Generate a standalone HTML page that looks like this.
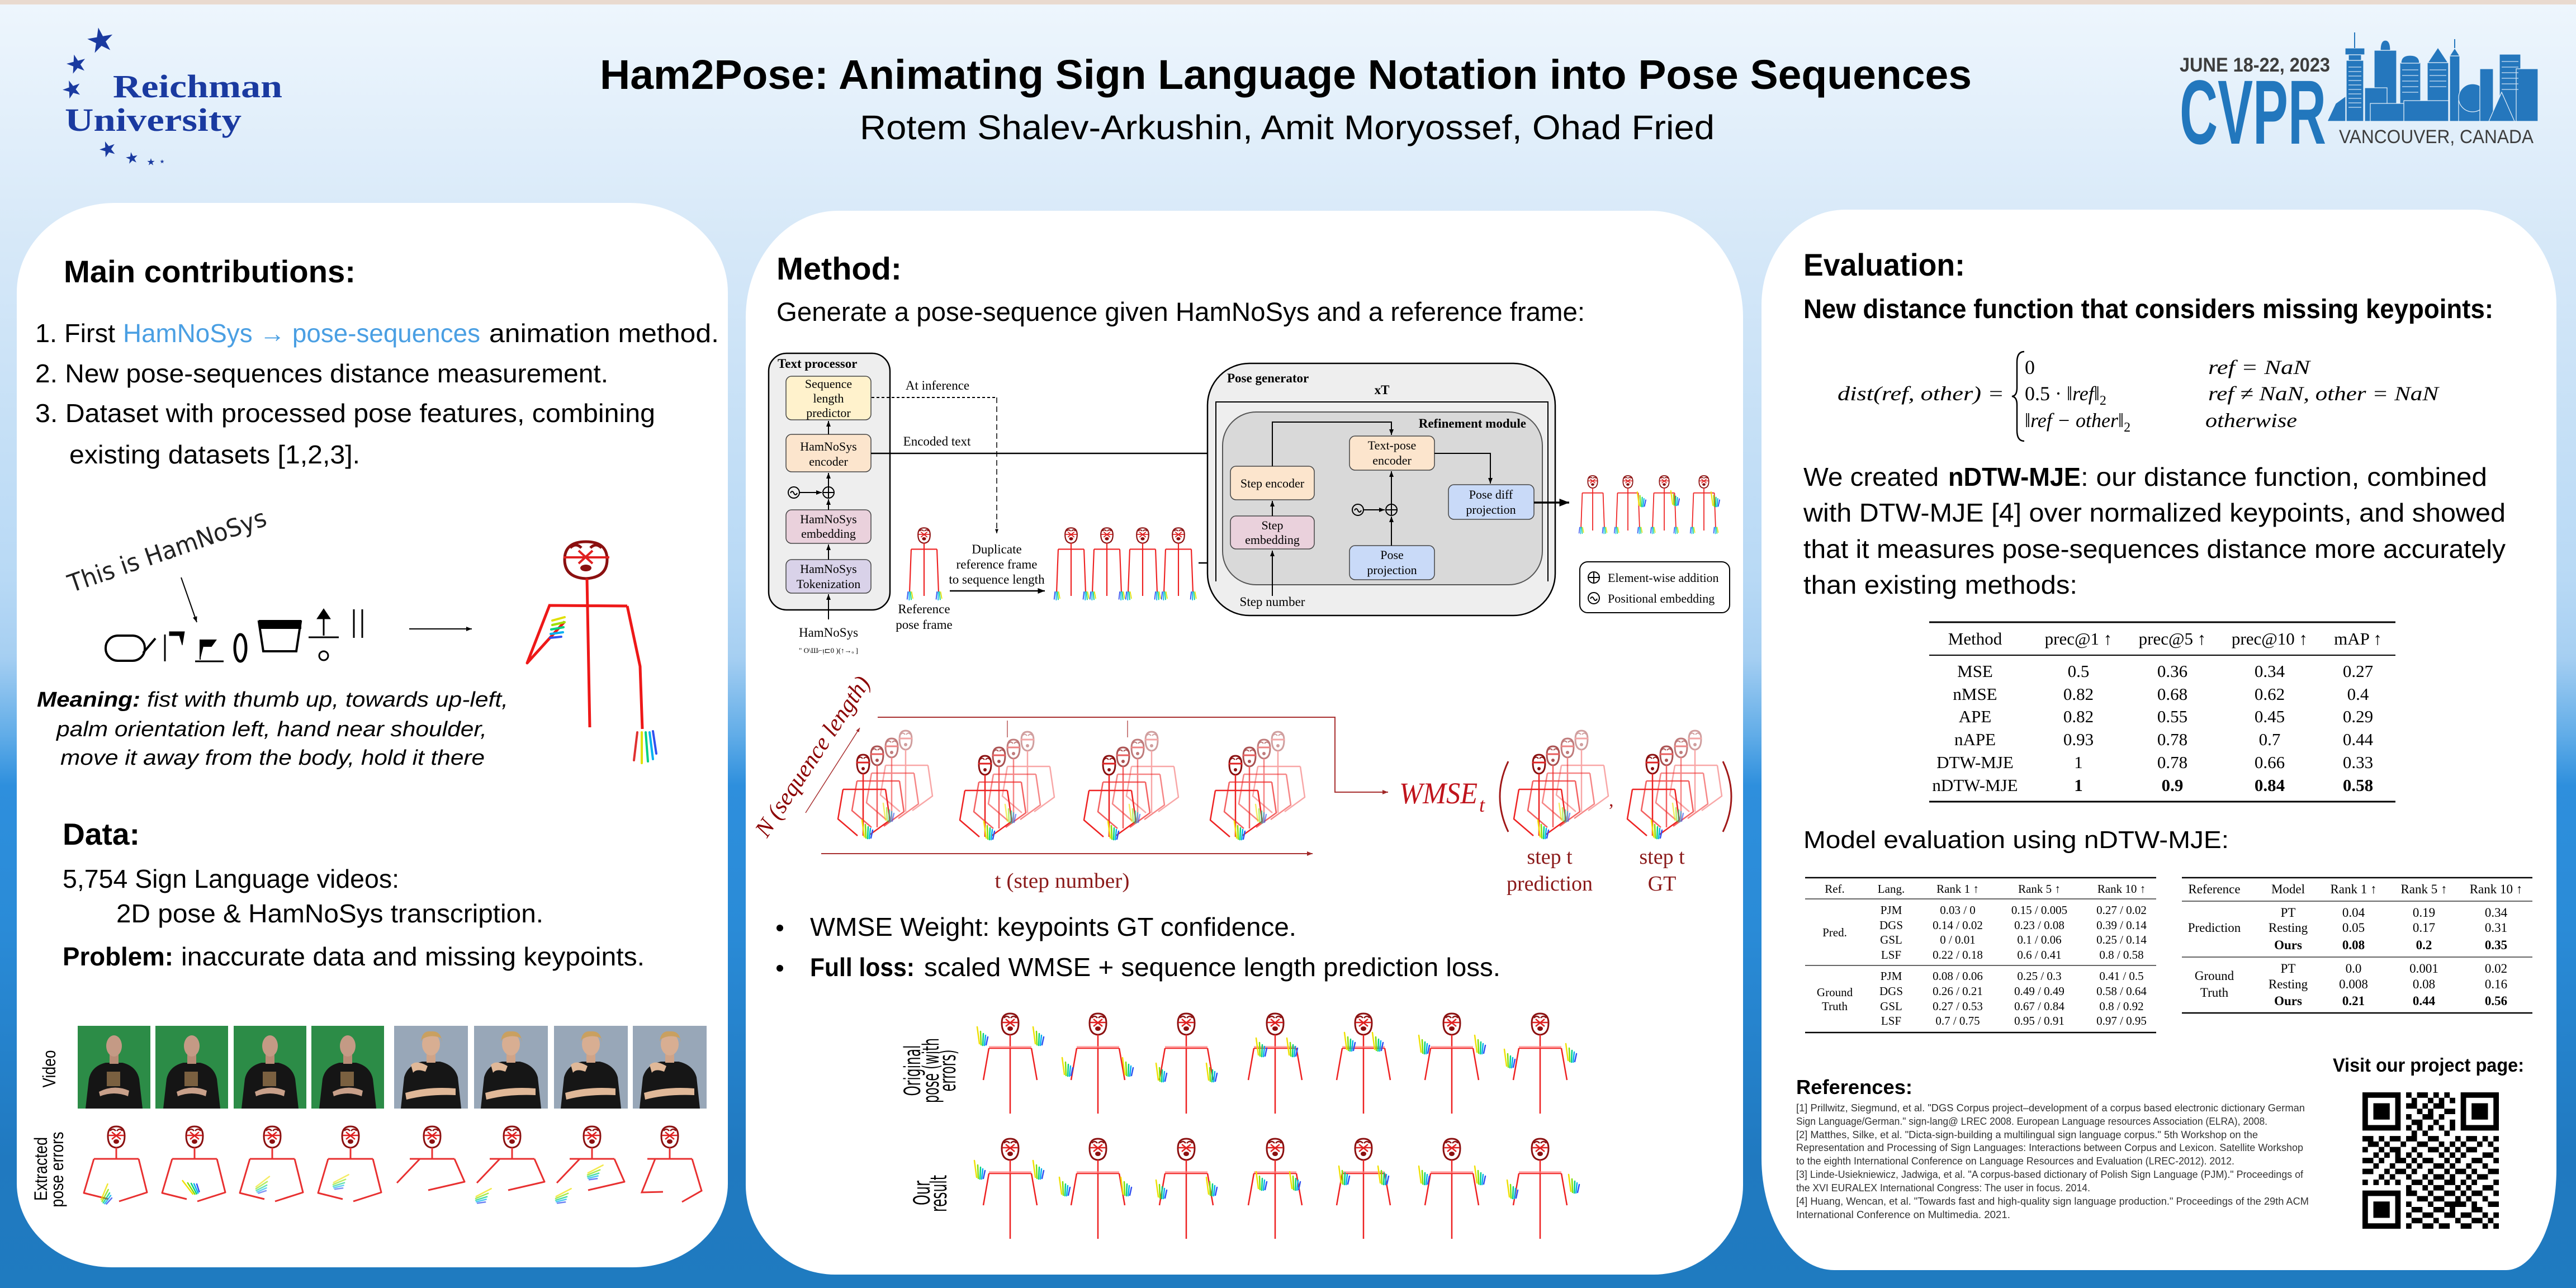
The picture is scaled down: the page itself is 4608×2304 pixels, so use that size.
<!DOCTYPE html>
<html><head><meta charset="utf-8"><style>
html,body{margin:0;padding:0;width:4608px;height:2304px;overflow:hidden;background:#fff}
svg{display:block}
</style></head><body>
<svg xmlns="http://www.w3.org/2000/svg" xmlns:xlink="http://www.w3.org/1999/xlink" width="4608" height="2304" viewBox="0 0 4608 2304" font-family="'Liberation Sans', sans-serif">
<defs>
<linearGradient id="bg" x1="0" y1="0" x2="0" y2="1">
<stop offset="0" stop-color="#eef6fd"/>
<stop offset="0.19" stop-color="#d6e8f8"/>
<stop offset="0.45" stop-color="#b8d9f5"/>
<stop offset="0.51" stop-color="#a6cff2"/>
<stop offset="0.57" stop-color="#62ade8"/>
<stop offset="0.61" stop-color="#2e8fdd"/>
<stop offset="0.72" stop-color="#2a8bd7"/>
<stop offset="0.9" stop-color="#2079c0"/>
<stop offset="1" stop-color="#1f7bc0"/>
</linearGradient>
<marker id="ak" viewBox="0 0 10 10" refX="10" refY="5" markerWidth="5" markerHeight="5" orient="auto"><path d="M0 1L10 5L0 9z" fill="#000"/></marker>
<marker id="ar" viewBox="0 0 10 10" refX="10" refY="5" markerWidth="5" markerHeight="5" orient="auto"><path d="M0 1L10 5L0 9z" fill="#a02828"/></marker>
<path id="star" d="M0,-1 L0.2245,-0.309 L0.951,-0.309 L0.363,0.118 L0.588,0.809 L0,0.382 L-0.588,0.809 L-0.363,0.118 L-0.951,-0.309 L-0.2245,-0.309Z"/>
<g id="hand" fill="none" stroke-width="2.5" stroke-linecap="round">
<path d="M0 30 L-4 0" stroke="#f0e000"/>
<path d="M3 32 L2 8" stroke="#80e000"/>
<path d="M6 33 L7 12" stroke="#00d080"/>
<path d="M9 33 L11 15" stroke="#00b0f0"/>
<path d="M12 32 L15 18" stroke="#3050f0"/>
</g>
<g id="handd" fill="none" stroke-width="2.5" stroke-linecap="round">
<path d="M0 0 L-2 18" stroke="#3050f0"/>
<path d="M3 0 L3 20" stroke="#00b0f0"/>
<path d="M6 0 L8 19" stroke="#00d080"/>
<path d="M9 0 L12 16" stroke="#e0e000"/>
</g>
<g id="hd" fill="none" stroke="#8b1010" stroke-width="3">
<path d="M-15 -2 Q-15 18 0 19 Q15 18 15 -2 Q15 -19 0 -19 Q-15 -19 -15 -2Z"/>
<path d="M-11 -11 q5 -6 10 0 M1 -11 q5 -6 10 0" stroke-width="2.5"/>
<path d="M-14 -3 L14 -3 M-8 -9 L8 4 M8 -9 L-8 4" stroke="#e02020" stroke-width="2.5"/>
<ellipse cx="0" cy="8" rx="5" ry="4" fill="#8b1010" stroke="none"/>
</g>
<g id="fr">
<use xlink:href="#hd"/>
<path d="M0 19 V160 M-38 43 H38 M-38 43 L-48 100 M38 43 L48 100" stroke="#ee2020" stroke-width="2.5" fill="none"/>
<path d="M-38 41 H38" stroke="#ff8080" stroke-width="4" opacity="0.6"/>
</g>
<g id="fd">
<use xlink:href="#hd"/>
<path d="M0 19 V150 M-32 34 H32 M-32 34 L-36 140 M32 34 L36 140" stroke="#ee2020" stroke-width="3" fill="none"/>
<use xlink:href="#handd" transform="translate(-40,140)"/>
<use xlink:href="#handd" transform="translate(32,140)"/>
</g>
<g id="sf" fill="none" stroke-linejoin="round">
<path d="M-11 -2 Q-11 16 0 17 Q11 16 11 -2 Q11 -17 0 -17 Q-11 -17 -11 -2Z" stroke="#8b1010" stroke-width="3"/>
<circle cx="0" cy="8" r="3" fill="#8b1010"/>
<path d="M-9 -10 q4 -5 8 0 M1 -10 q4 -5 8 0" stroke="#8b1010" stroke-width="2"/>
<path d="M-12 -3 H12" stroke="#e02020" stroke-width="3"/>
<path d="M0 17 V128 M-36 45 H40 M-36 45 L-45 98 L-10 128 M40 45 L48 100 L12 126" stroke="#ee2222" stroke-width="2.5"/>
</g>
<g id="st">
<use xlink:href="#sf" transform="translate(76,-43)" opacity="0.4"/>
<use xlink:href="#sf" transform="translate(51,-29)" opacity="0.55"/>
<use xlink:href="#sf" transform="translate(25,-15)" opacity="0.72"/>
<use xlink:href="#sf"/>
<use xlink:href="#hand" transform="translate(2,100)"/>
<use xlink:href="#hand" transform="translate(40,70)" opacity="0.6"/>
</g>
<g id="vg">
<rect width="130" height="148" fill="#2c8c47"/>
<path d="M14 148 L20 95 Q25 72 50 66 L80 66 Q105 72 110 95 L116 148Z" fill="#151515"/>
<rect x="57" y="50" width="16" height="18" fill="#b88c76"/>
<ellipse cx="65" cy="36" rx="14" ry="19" fill="#c49a85"/>
<rect x="52" y="82" width="24" height="26" fill="#7a6040"/>
<path d="M38 118 Q65 104 92 116 L90 126 Q65 116 40 126Z" fill="#c8a08a"/>
</g>
<g id="vb">
<rect width="132" height="148" fill="#98a7b8"/>
<path d="M12 148 L18 92 Q24 70 50 64 L82 64 Q108 70 114 92 L120 148Z" fill="#161616"/>
<rect x="58" y="48" width="16" height="18" fill="#d0a488"/>
<ellipse cx="66" cy="33" rx="16" ry="20" fill="#d8ae92"/>
<path d="M48 28 Q50 8 66 10 Q84 8 86 30 L84 22 Q66 14 50 24Z" fill="#c9a060"/>
<path d="M20 120 Q60 108 110 112 L110 124 Q60 122 22 132Z" fill="#e0b898"/>
<path d="M30 70 Q40 60 60 72 L56 82 Q40 76 34 84Z" fill="#e0b898"/>
</g>
<g id="ef" fill="none" stroke="#e83030" stroke-width="3" stroke-linejoin="round">
<use xlink:href="#hd"/>
<path d="M0 19 V39 M-40 39 H40 M-40 39 L-58 100 L-14 111 M40 39 L55 99 L5 115"/>
</g>
<g id="ef2" fill="none" stroke="#e83030" stroke-width="3" stroke-linejoin="round">
<use xlink:href="#hd"/>
<path d="M0 19 V39 M-40 39 H40 M-22 39 L-63 82 M40 39 L58 80 L-7 95"/>
</g>
</defs>

<!-- background -->
<rect width="4608" height="2304" fill="url(#bg)"/>
<rect width="4608" height="8" fill="#e9dacf"/>

<!-- Reichman logo -->
<g fill="#1a3aa0">
<use xlink:href="#star" transform="translate(180,73) scale(24) rotate(-10)"/>
<use xlink:href="#star" transform="translate(137,115) scale(18) rotate(-15)"/>
<use xlink:href="#star" transform="translate(129,160) scale(17) rotate(-20)"/>
<use xlink:href="#star" transform="translate(193,267) scale(15) rotate(-20)"/>
<use xlink:href="#star" transform="translate(236,283) scale(11) rotate(-10)"/>
<use xlink:href="#star" transform="translate(270,290) scale(7)"/>
<use xlink:href="#star" transform="translate(290,289) scale(4)"/>
<text x="202" y="174" font-family="'Liberation Serif', serif" font-weight="bold" font-size="58" textLength="303" lengthAdjust="spacingAndGlyphs">Reichman</text>
<text x="116" y="234" font-family="'Liberation Serif', serif" font-weight="bold" font-size="58" textLength="316" lengthAdjust="spacingAndGlyphs">University</text>
</g>

<!-- Title -->
<text x="1073" y="159" font-size="74" font-weight="bold" textLength="2454" lengthAdjust="spacingAndGlyphs">Ham2Pose: Animating Sign Language Notation into Pose Sequences</text>
<text x="1538" y="249" font-size="61" textLength="1529" lengthAdjust="spacingAndGlyphs">Rotem Shalev-Arkushin, Amit Moryossef, Ohad Fried</text>

<!-- CVPR logo -->
<text x="3899" y="128" font-size="35" font-weight="bold" fill="#3d3d3d" textLength="269" lengthAdjust="spacingAndGlyphs">JUNE 18-22, 2023</text>
<text x="3899" y="257" font-size="163" font-weight="bold" fill="#2277bd" textLength="262" lengthAdjust="spacingAndGlyphs">CVPR</text>
<text x="4184" y="256" font-size="34" fill="#3d3d3d" textLength="348" lengthAdjust="spacingAndGlyphs">VANCOUVER, CANADA</text>
<g fill="#2577bd" stroke="#e8f2fb" stroke-width="1.2">
<path d="M4163 217 L4178 185 L4196 172 L4196 217Z"/>
<rect x="4197" y="108" width="31" height="109"/>
<rect x="4195" y="86" width="35" height="12"/>
<rect x="4201" y="98" width="23" height="10"/>
<path d="M4212 58 V86" stroke="#2577bd" stroke-width="2"/>
<rect x="4247" y="90" width="40" height="127"/>
<path d="M4258 90 Q4258 72 4267 72 Q4276 72 4276 90Z"/>
<rect x="4230" y="157" width="40" height="60"/>
<rect x="4293" y="112" width="37" height="105"/>
<path d="M4295 113 Q4295 99 4311 99 Q4328 99 4328 113Z"/>
<rect x="4342" y="112" width="38" height="105"/>
<path d="M4343 112 L4361 85 L4379 112Z"/>
<rect x="4382" y="100" width="18" height="117"/>
<path d="M4382 100 L4391 86 L4400 100Z"/>
<path d="M4391 86 V70" stroke="#2577bd" stroke-width="2"/>
<rect x="4300" y="180" width="80" height="37"/>
<rect x="4240" y="185" width="60" height="32"/>
<rect x="4398" y="180" width="50" height="37"/>
<circle cx="4423" cy="175" r="25"/>
<rect x="4436" y="123" width="24" height="94"/>
<rect x="4471" y="97" width="38" height="120"/>
<rect x="4501" y="123" width="39" height="94"/>
<path d="M4452 217 L4475 165 L4498 217Z"/>
</g>
<g stroke="#cfe3f5" stroke-width="1.3">
<path d="M4201 120 H4224 M4201 128 H4224 M4201 136 H4224 M4201 144 H4224 M4201 152 H4224 M4201 160 H4224 M4201 168 H4224 M4201 176 H4224 M4201 184 H4224 M4201 192 H4224"/>
<path d="M4297 125 H4326 M4297 135 H4326 M4297 145 H4326 M4297 155 H4326 M4297 165 H4326"/>
<path d="M4475 110 H4505 M4475 120 H4505 M4475 130 H4505 M4475 140 H4505 M4475 150 H4505 M4475 160 H4505"/>
<path d="M4346 125 H4376 M4346 135 H4376 M4346 145 H4376 M4346 155 H4376"/>
</g>

<!-- Panels -->
<path d="M205 363 H1127 A175 160 0 0 1 1302 523 V2117 A170 150 0 0 1 1132 2267 H200 A170 150 0 0 1 30 2117 V523 A175 160 0 0 1 205 363Z" fill="#fff"/>
<path d="M1499 377 H2953 A165 190 0 0 1 3118 567 V2120 A160 160 0 0 1 2958 2280 H1494 A160 160 0 0 1 1334 2120 V567 A165 190 0 0 1 1499 377Z" fill="#fff"/>
<path d="M3301 375 H4426 A147 170 0 0 1 4573 545 V2092 A90 180 0 0 1 4483 2272 H3281 A130 200 0 0 1 3151 2072 V545 A150 170 0 0 1 3301 375Z" fill="#fff"/>

<!-- LEFT PANEL -->
<text x="114" y="505" font-size="56" font-weight="bold" textLength="522" lengthAdjust="spacingAndGlyphs">Main contributions:</text>
<text x="63" y="612" font-size="46" textLength="143" lengthAdjust="spacingAndGlyphs">1. First</text>
<text x="220" y="612" font-size="46" fill="#4a9fe3" textLength="639" lengthAdjust="spacingAndGlyphs">HamNoSys → pose-sequences</text>
<text x="875" y="612" font-size="46" textLength="411" lengthAdjust="spacingAndGlyphs">animation method.</text>
<text x="63" y="684" font-size="46" textLength="1025" lengthAdjust="spacingAndGlyphs">2. New pose-sequences distance measurement.</text>
<text x="63" y="755" font-size="46" textLength="1109" lengthAdjust="spacingAndGlyphs">3. Dataset with processed pose features, combining</text>
<text x="124" y="829" font-size="46" textLength="520" lengthAdjust="spacingAndGlyphs">existing datasets [1,2,3].</text>

<text x="128" y="1060" font-size="44" font-family="'DejaVu Sans', sans-serif" transform="rotate(-19 128 1060)" textLength="372" lengthAdjust="spacingAndGlyphs" fill="#222">This is HamNoSys</text>
<path d="M324 1033 L352 1113" stroke="#000" stroke-width="2" marker-end="url(#ak)"/>

<g stroke="#000" fill="none">
<rect x="189" y="1137" width="70" height="45" rx="22" stroke-width="4"/>
<path d="M256 1168 L278 1142" stroke-width="4"/>
<path d="M295 1135 V1183" stroke-width="3"/>
<path d="M303 1130 H330 L326 1154 L321 1137 H303Z" fill="#000" stroke-width="1"/>
<path d="M349 1183 H400" stroke-width="3"/>
<path d="M358 1180 V1145 H386 L378 1156 H364" fill="#000" stroke-width="2"/>
<ellipse cx="430" cy="1159" rx="10" ry="24" stroke-width="5"/>
<path d="M463 1112 H538 L530 1165 H471 Z" stroke-width="4"/>
<rect x="463" y="1109" width="76" height="16" fill="#000" stroke="none"/>
<path d="M579 1104 V1137" stroke-width="3"/>
<path d="M567 1107 L579 1089 L591 1107Z" fill="#000" stroke-width="1"/>
<path d="M552 1140 H606" stroke-width="3"/>
<circle cx="579" cy="1173" r="8" stroke-width="3"/>
<path d="M633 1090 V1141 M648 1090 V1141" stroke-width="3"/>
</g>
<path d="M732 1125 H844" stroke="#000" stroke-width="2" marker-end="url(#ak)"/>

<!-- big stick figure -->
<g fill="none" stroke-linejoin="round">
<path d="M1010 1001 Q1010 1033 1048 1035 Q1086 1033 1086 1001 Q1086 969 1048 969 Q1010 969 1010 1001Z" stroke="#8b1010" stroke-width="5"/>
<path d="M1020 980 q10 -10 20 0 M1056 980 q10 -10 20 0" stroke="#8b1010" stroke-width="5"/>
<path d="M1008 997 H1090 M1035 985 L1060 1008 M1060 985 L1035 1008" stroke="#e02020" stroke-width="4"/>
<ellipse cx="1048" cy="1016" rx="10" ry="6" fill="#8b1010"/>
<path d="M1050 1035 L1055 1301 M981 1083 L1122 1084 M983 1083 L943 1186 L1010 1112 M1122 1084 L1145 1192 L1149 1304" stroke="#ee1818" stroke-width="5"/>
</g>
<g fill="none" stroke-width="4" stroke-linecap="round">
<path d="M988 1110 l22 -6" stroke="#e0e000"/>
<path d="M988 1118 l22 -5" stroke="#a0e000"/>
<path d="M986 1126 l22 -4" stroke="#00d080"/>
<path d="M985 1134 l22 -3" stroke="#00b0f0"/>
<path d="M984 1141 l20 -2" stroke="#3050f0"/>
<path d="M1140 1310 l-6 50" stroke="#e03030"/>
<path d="M1148 1310 l0 55" stroke="#e0e000"/>
<path d="M1155 1310 l4 52" stroke="#00d080"/>
<path d="M1162 1310 l6 48" stroke="#00b0f0"/>
<path d="M1168 1308 l6 40" stroke="#3050f0"/>
</g>

<text x="66" y="1264" font-size="38" font-weight="bold" font-style="italic" textLength="185" lengthAdjust="spacingAndGlyphs">Meaning:</text>
<text x="263" y="1264" font-size="38" font-style="italic" textLength="646" lengthAdjust="spacingAndGlyphs">fist with thumb up, towards up-left,</text>
<text x="101" y="1317" font-size="38" font-style="italic" textLength="770" lengthAdjust="spacingAndGlyphs">palm orientation left, hand near shoulder,</text>
<text x="108" y="1368" font-size="38" font-style="italic" textLength="759" lengthAdjust="spacingAndGlyphs">move it away from the body, hold it there</text>

<text x="112" y="1511" font-size="55" font-weight="bold" textLength="138" lengthAdjust="spacingAndGlyphs">Data:</text>
<text x="112" y="1588" font-size="46" textLength="602" lengthAdjust="spacingAndGlyphs">5,754 Sign Language videos:</text>
<text x="208" y="1650" font-size="46" textLength="764" lengthAdjust="spacingAndGlyphs">2D pose &amp; HamNoSys transcription.</text>
<text x="112" y="1727" font-size="46" font-weight="bold" textLength="198" lengthAdjust="spacingAndGlyphs">Problem:</text>
<text x="324" y="1727" font-size="46" textLength="829" lengthAdjust="spacingAndGlyphs">inaccurate data and missing keypoints.</text>

<text x="99" y="1912" font-size="32" text-anchor="middle" transform="rotate(-90 99 1912)" textLength="67" lengthAdjust="spacingAndGlyphs">Video</text>
<text x="84" y="2091" font-size="32" text-anchor="middle" transform="rotate(-90 84 2091)" textLength="114" lengthAdjust="spacingAndGlyphs">Extracted</text>
<text x="113" y="2092" font-size="32" text-anchor="middle" transform="rotate(-90 113 2092)" textLength="135" lengthAdjust="spacingAndGlyphs">pose errors</text>

<use xlink:href="#vg" x="139" y="1835"/>
<use xlink:href="#vg" x="278" y="1835"/>
<use xlink:href="#vg" x="418" y="1835"/>
<use xlink:href="#vg" x="557" y="1835"/>
<use xlink:href="#vb" x="705" y="1835"/>
<use xlink:href="#vb" x="848" y="1835"/>
<use xlink:href="#vb" x="991" y="1835"/>
<use xlink:href="#vb" x="1132" y="1835"/>

<use xlink:href="#ef" x="208" y="2034"/>
<use xlink:href="#ef" x="348" y="2034"/>
<use xlink:href="#ef" x="487" y="2034"/>
<use xlink:href="#ef" x="627" y="2034"/>
<use xlink:href="#ef2" x="773" y="2034"/>
<use xlink:href="#ef2" x="916" y="2034"/>
<use xlink:href="#ef2" x="1059" y="2034"/>
<g fill="none" stroke="#e83030" stroke-width="3"><use xlink:href="#hd" x="1198" y="2034"/><path d="M1198 2053 V2073 M1158 2073 H1238 M1172 2073 L1148 2133 L1186 2132 M1238 2073 L1255 2130 L1220 2150"/></g>
<use xlink:href="#hand" transform="translate(196,2120) rotate(30)" opacity="0.8"/>
<use xlink:href="#hand" transform="translate(330,2110) rotate(-30)"/>
<use xlink:href="#hand" transform="translate(484,2108) rotate(60)" opacity="0.6"/>
<use xlink:href="#hand" transform="translate(625,2105) rotate(70)" opacity="0.6"/>
<use xlink:href="#hand" transform="translate(880,2130) rotate(70)" opacity="0.7"/>
<use xlink:href="#hand" transform="translate(1023,2130) rotate(70)" opacity="0.7"/>
<use xlink:href="#hand" transform="translate(1080,2088) rotate(70)" opacity="0.7"/>

<!-- MIDDLE PANEL -->
<text x="1389" y="500" font-size="57" font-weight="bold" textLength="224" lengthAdjust="spacingAndGlyphs">Method:</text>
<text x="1389" y="574" font-size="47" textLength="1446" lengthAdjust="spacingAndGlyphs">Generate a pose-sequence given HamNoSys and a reference frame:</text>

<g font-family="'Liberation Serif', serif" font-size="22" text-anchor="middle">
<rect x="1375" y="632" width="217" height="459" rx="32" fill="#eeeeee" stroke="#000" stroke-width="2.5"/>
<text x="1391" y="658" text-anchor="start" font-weight="bold" font-size="23">Text processor</text>
<rect x="1406" y="673" width="152" height="78" rx="10" fill="#fff2cc" stroke="#444" stroke-width="1.5"/>
<text x="1482" y="694">Sequence</text><text x="1482" y="720">length</text><text x="1482" y="746">predictor</text>
<rect x="1406" y="777" width="152" height="67" rx="10" fill="#fce5cd" stroke="#444" stroke-width="1.5"/>
<text x="1482" y="806">HamNoSys</text><text x="1482" y="833">encoder</text>
<rect x="1406" y="912" width="152" height="60" rx="10" fill="#ead1dc" stroke="#444" stroke-width="1.5"/>
<text x="1482" y="936">HamNoSys</text><text x="1482" y="962">embedding</text>
<rect x="1406" y="1001" width="152" height="60" rx="10" fill="#d9d2e9" stroke="#444" stroke-width="1.5"/>
<text x="1482" y="1025">HamNoSys</text><text x="1482" y="1052">Tokenization</text>
<g stroke="#000" stroke-width="2" fill="none">
<path d="M1482 1108 V1063" marker-end="url(#ak)"/>
<path d="M1482 1001 V974" marker-end="url(#ak)"/>
<path d="M1482 912 V893" marker-end="url(#ak)"/>
<path d="M1482 871 V846" marker-end="url(#ak)"/>
<path d="M1482 777 V753" marker-end="url(#ak)"/>
<circle cx="1482" cy="881" r="10"/><path d="M1472 881 H1492 M1482 871 V891"/>
<circle cx="1420" cy="881" r="10"/><path d="M1414 882 q3 -6 6 0 q3 6 6 0"/>
<path d="M1430 881 H1470" marker-end="url(#ak)"/>
<path d="M1559 711 H1783" stroke-dasharray="5 4"/>
<path d="M1783 711 V954" stroke-dasharray="10 6" stroke-width="1.5" marker-end="url(#ak)"/>
<path d="M1558 811 H2411" stroke-width="2.5" marker-end="url(#ak)"/>
<path d="M1699 1057 H1869" stroke-width="2.5" marker-end="url(#ak)"/>
<path d="M2144 1007 H2411" stroke-width="2.5" marker-end="url(#ak)"/>
</g>
<text x="1482" y="1139" font-size="23">HamNoSys</text>
<text x="1482" y="1168" font-size="13">" O\Ш⌐ᴉ⊏0 )(↑→ₒ ]</text>
<text x="1677" y="697" font-size="23">At inference</text>
<text x="1676" y="797" font-size="23">Encoded text</text>
<text x="1783" y="990" font-size="23">Duplicate</text>
<text x="1783" y="1017" font-size="23">reference frame</text>
<text x="1783" y="1044" font-size="23">to sequence length</text>
<text x="1653" y="1097" font-size="23">Reference</text>
<text x="1653" y="1125" font-size="23">pose frame</text>

<use xlink:href="#fd" transform="translate(1653,958) scale(0.72)"/>
<use xlink:href="#fd" transform="translate(1916,958) scale(0.72)"/>
<use xlink:href="#fd" transform="translate(1980,958) scale(0.72)"/>
<use xlink:href="#fd" transform="translate(2044,958) scale(0.72)"/>
<use xlink:href="#fd" transform="translate(2108,958) scale(0.72)"/>

<rect x="2160" y="650" width="622" height="451" rx="75" fill="#eeeeee" stroke="#000" stroke-width="2.5"/>
<text x="2195" y="684" text-anchor="start" font-weight="bold" font-size="23">Pose generator</text>
<text x="2472" y="705" font-weight="bold" font-size="23">xT</text>
<path d="M2175 1040 V719 H2769 V1040" fill="none" stroke="#000" stroke-width="2"/>
<rect x="2187" y="737" width="572" height="309" rx="60" fill="#d9d9d9" stroke="#555" stroke-width="2"/>
<text x="2730" y="765" text-anchor="end" font-weight="bold" font-size="23">Refinement module</text>
<rect x="2201" y="834" width="150" height="60" rx="10" fill="#fce5cd" stroke="#444" stroke-width="1.5"/>
<text x="2276" y="872">Step encoder</text>
<rect x="2201" y="923" width="150" height="59" rx="10" fill="#ead1dc" stroke="#444" stroke-width="1.5"/>
<text x="2276" y="947">Step</text><text x="2276" y="973">embedding</text>
<rect x="2414" y="780" width="152" height="61" rx="10" fill="#fce5cd" stroke="#444" stroke-width="1.5"/>
<text x="2490" y="804">Text-pose</text><text x="2490" y="831">encoder</text>
<rect x="2591" y="867" width="153" height="62" rx="10" fill="#c9daf8" stroke="#444" stroke-width="1.5"/>
<text x="2667" y="892">Pose diff</text><text x="2667" y="919">projection</text>
<rect x="2414" y="976" width="152" height="61" rx="10" fill="#c9daf8" stroke="#444" stroke-width="1.5"/>
<text x="2490" y="1000">Pose</text><text x="2490" y="1027">projection</text>
<text x="2276" y="1084" font-size="23">Step number</text>
<g stroke="#000" stroke-width="2" fill="none">
<path d="M2276 1066 V985" marker-end="url(#ak)"/>
<path d="M2276 923 V896" marker-end="url(#ak)"/>
<path d="M2276 834 V755 H2489 V778" marker-end="url(#ak)"/>
<path d="M2489 976 V924" marker-end="url(#ak)"/>
<path d="M2489 902 V843" marker-end="url(#ak)"/>
<circle cx="2489" cy="912" r="10"/><path d="M2479 912 H2499 M2489 902 V922"/>
<circle cx="2429" cy="912" r="10"/><path d="M2423 913 q3 -6 6 0 q3 6 6 0"/>
<path d="M2439 912 H2477" marker-end="url(#ak)"/>
<path d="M2566 811 H2666 V865" marker-end="url(#ak)"/>
<path d="M2744 899 H2807" stroke-width="3.5" marker-end="url(#ak)"/>
</g>
<use xlink:href="#fd" transform="translate(2849,862) scale(0.58)"/>
<use xlink:href="#fd" transform="translate(2912,862) scale(0.58)"/>
<use xlink:href="#fd" transform="translate(2977,862) scale(0.58)"/>
<use xlink:href="#fd" transform="translate(3048,862) scale(0.58)"/>
<use xlink:href="#hand" transform="translate(2932,880) scale(0.8)"/>
<use xlink:href="#hand" transform="translate(2992,878) scale(0.8)"/>
<use xlink:href="#hand" transform="translate(3064,880) scale(0.8)"/>
<rect x="2826" y="1005" width="268" height="91" rx="14" fill="#fff" stroke="#000" stroke-width="2"/>
<g stroke="#000" stroke-width="2" fill="none">
<circle cx="2851" cy="1033" r="10"/><path d="M2841 1033 H2861 M2851 1023 V1043"/>
<circle cx="2851" cy="1070" r="10"/><path d="M2845 1071 q3 -6 6 0 q3 6 6 0"/>
</g>
<text x="2876" y="1041" text-anchor="start" font-size="22">Element-wise addition</text>
<text x="2876" y="1078" text-anchor="start" font-size="22">Positional embedding</text>
</g>

<!-- WMSE illustration -->
<g fill="none" stroke="#a83030" stroke-width="2">
<path d="M1570 1283 H2388 V1417 H2483" marker-end="url(#ar)"/>
<path d="M1802 1289 V1319 M2017 1289 V1319" stroke-width="1.2"/>
<path d="M1441 1454 L1538 1302" stroke-width="1.5" marker-end="url(#ar)"/>
<path d="M1469 1527 H2348" marker-end="url(#ar)"/>
</g>
<text x="1372" y="1500" font-family="'Liberation Serif', serif" font-style="italic" font-size="42" fill="#8b0000" transform="rotate(-56.3 1372 1500)" textLength="335" lengthAdjust="spacingAndGlyphs">N (sequence length)</text>
<use xlink:href="#st" x="1544" y="1367"/>
<use xlink:href="#st" x="1762" y="1369"/>
<use xlink:href="#st" x="1984" y="1369"/>
<use xlink:href="#st" x="2210" y="1369"/>
<use xlink:href="#st" x="2753" y="1367"/>
<use xlink:href="#st" x="2956" y="1367"/>
<text x="1900" y="1588" font-family="'Liberation Serif', serif" font-size="38" fill="#8b1a1a" text-anchor="middle" textLength="241" lengthAdjust="spacingAndGlyphs">t (step number)</text>
<text x="2503" y="1437" font-family="'Liberation Serif', serif" font-style="italic" font-size="54" fill="#c0141c" textLength="140" lengthAdjust="spacingAndGlyphs">WMSE</text>
<text x="2646" y="1452" font-family="'Liberation Serif', serif" font-style="italic" font-size="36" fill="#c0141c">t</text>
<path d="M2698 1362 Q2668 1425 2698 1488" fill="none" stroke="#a01818" stroke-width="3"/>
<path d="M3082 1362 Q3112 1425 3082 1488" fill="none" stroke="#a01818" stroke-width="3"/>
<text x="2878" y="1442" font-family="'Liberation Serif', serif" font-size="34" fill="#a01818">,</text>
<g font-family="'Liberation Serif', serif" font-size="38" fill="#8b1a1a" text-anchor="middle">
<text x="2772" y="1545">step t</text><text x="2772" y="1593">prediction</text>
<text x="2973" y="1545">step t</text><text x="2973" y="1593">GT</text>
</g>

<circle cx="1395" cy="1660" r="6" fill="#000"/>
<text x="1449" y="1674" font-size="46" textLength="870" lengthAdjust="spacingAndGlyphs">WMSE Weight: keypoints GT confidence.</text>
<circle cx="1395" cy="1732" r="6" fill="#000"/>
<text x="1449" y="1746" font-size="46" font-weight="bold" textLength="187" lengthAdjust="spacingAndGlyphs">Full loss:</text>
<text x="1653" y="1746" font-size="46" textLength="1031" lengthAdjust="spacingAndGlyphs">scaled WMSE + sequence length prediction loss.</text>

<g font-family="'DejaVu Sans', sans-serif" font-size="40">
<text x="1646" y="1915" text-anchor="middle" transform="rotate(-90 1646 1915)" textLength="91" lengthAdjust="spacingAndGlyphs">Original</text>
<text x="1679" y="1915" text-anchor="middle" transform="rotate(-90 1679 1915)" textLength="116" lengthAdjust="spacingAndGlyphs">pose (with</text>
<text x="1709" y="1915" text-anchor="middle" transform="rotate(-90 1709 1915)" textLength="75" lengthAdjust="spacingAndGlyphs">errors)</text>
<text x="1663" y="2134" text-anchor="middle" transform="rotate(-90 1663 2134)" textLength="44" lengthAdjust="spacingAndGlyphs">Our</text>
<text x="1693" y="2135" text-anchor="middle" transform="rotate(-90 1693 2135)" textLength="66" lengthAdjust="spacingAndGlyphs">result</text>
</g>
<use xlink:href="#fr" x="1807" y="1832"/><use xlink:href="#hand" x="1752" y="1837"/><use xlink:href="#hand" x="1852" y="1837"/>
<use xlink:href="#fr" x="1964" y="1832"/><use xlink:href="#hand" x="1904" y="1892"/><use xlink:href="#hand" x="2012" y="1892"/>
<use xlink:href="#fr" x="2122" y="1832"/><use xlink:href="#hand" x="2072" y="1902"/><use xlink:href="#hand" x="2162" y="1902"/>
<use xlink:href="#fr" x="2281" y="1832"/><use xlink:href="#hand" x="2251" y="1857"/><use xlink:href="#hand" x="2306" y="1857"/>
<use xlink:href="#fr" x="2439" y="1832"/><use xlink:href="#hand" x="2409" y="1847"/><use xlink:href="#hand" x="2459" y="1847"/>
<use xlink:href="#fr" x="2597" y="1832"/><use xlink:href="#hand" x="2542" y="1852"/><use xlink:href="#hand" x="2642" y="1852"/>
<use xlink:href="#fr" x="2755" y="1832"/><use xlink:href="#hand" x="2695" y="1877"/><use xlink:href="#hand" x="2805" y="1867"/>

<use xlink:href="#fr" x="1807" y="2056"/><use xlink:href="#hand" x="1747" y="2076"/><use xlink:href="#hand" x="1852" y="2076"/>
<use xlink:href="#fr" x="1964" y="2056"/><use xlink:href="#hand" x="1899" y="2106"/><use xlink:href="#hand" x="2009" y="2106"/>
<use xlink:href="#fr" x="2122" y="2056"/><use xlink:href="#hand" x="2072" y="2111"/><use xlink:href="#hand" x="2162" y="2106"/>
<use xlink:href="#fr" x="2281" y="2056"/><use xlink:href="#hand" x="2251" y="2096"/><use xlink:href="#hand" x="2311" y="2096"/>
<use xlink:href="#fr" x="2439" y="2056"/><use xlink:href="#hand" x="2399" y="2086"/><use xlink:href="#hand" x="2469" y="2086"/>
<use xlink:href="#fr" x="2597" y="2056"/><use xlink:href="#hand" x="2542" y="2086"/><use xlink:href="#hand" x="2642" y="2086"/>
<use xlink:href="#fr" x="2755" y="2056"/><use xlink:href="#hand" x="2700" y="2111"/><use xlink:href="#hand" x="2810" y="2101"/>

<!-- RIGHT PANEL -->
<text x="3226" y="493" font-size="56" font-weight="bold" textLength="289" lengthAdjust="spacingAndGlyphs">Evaluation:</text>
<text x="3226" y="569" font-size="48" font-weight="bold" textLength="1234" lengthAdjust="spacingAndGlyphs">New distance function that considers missing keypoints:</text>

<g font-family="'Liberation Serif', serif" font-size="36" font-style="italic">
<text x="3287" y="716" textLength="298" lengthAdjust="spacingAndGlyphs">dist(ref, other) =</text>
<text x="3622" y="669" font-style="normal">0</text>
<text x="3950" y="669" textLength="182" lengthAdjust="spacingAndGlyphs">ref = NaN</text>
<text x="3622" y="716"><tspan font-style="normal">0.5 · ‖</tspan>ref<tspan font-style="normal">‖</tspan><tspan font-style="normal" font-size="24" dy="8">2</tspan></text>
<text x="3950" y="716" textLength="412" lengthAdjust="spacingAndGlyphs">ref ≠ NaN, other = NaN</text>
<text x="3622" y="764"><tspan font-style="normal">‖</tspan>ref − other<tspan font-style="normal">‖</tspan><tspan font-style="normal" font-size="24" dy="8">2</tspan></text>
<text x="3945" y="764" textLength="164" lengthAdjust="spacingAndGlyphs">otherwise</text>
</g>
<path d="M3621 629 Q3608 629 3608 648 V694 Q3608 708 3599 709 Q3608 710 3608 724 V770 Q3608 789 3621 789" fill="none" stroke="#000" stroke-width="2.5"/>

<text x="3226" y="869" font-size="46" textLength="242" lengthAdjust="spacingAndGlyphs">We created</text>
<text x="3485" y="869" font-size="46" font-weight="bold" textLength="237" lengthAdjust="spacingAndGlyphs">nDTW-MJE</text>
<text x="3722" y="869" font-size="46" textLength="727" lengthAdjust="spacingAndGlyphs">: our distance function, combined</text>
<text x="3226" y="933" font-size="46" textLength="1256" lengthAdjust="spacingAndGlyphs">with DTW-MJE [4] over normalized keypoints, and showed</text>
<text x="3226" y="998" font-size="46" textLength="1256" lengthAdjust="spacingAndGlyphs">that it measures pose-sequences distance more accurately</text>
<text x="3226" y="1062" font-size="46" textLength="490" lengthAdjust="spacingAndGlyphs">than existing methods:</text>

<g font-family="'Liberation Serif', serif" font-size="31" text-anchor="middle">
<path d="M3451 1113 H4285" stroke="#000" stroke-width="3"/>
<path d="M3451 1172 H4285" stroke="#000" stroke-width="2"/>
<path d="M3451 1434 H4285" stroke="#000" stroke-width="3"/>
<text x="3533" y="1153">Method</text><text x="3718" y="1153">prec@1 ↑</text><text x="3886" y="1153">prec@5 ↑</text><text x="4060" y="1153">prec@10 ↑</text><text x="4218" y="1153">mAP ↑</text>
<text x="3533" y="1211">MSE</text><text x="3718" y="1211">0.5</text><text x="3886" y="1211">0.36</text><text x="4060" y="1211">0.34</text><text x="4218" y="1211">0.27</text>
<text x="3533" y="1252">nMSE</text><text x="3718" y="1252">0.82</text><text x="3886" y="1252">0.68</text><text x="4060" y="1252">0.62</text><text x="4218" y="1252">0.4</text>
<text x="3533" y="1292">APE</text><text x="3718" y="1292">0.82</text><text x="3886" y="1292">0.55</text><text x="4060" y="1292">0.45</text><text x="4218" y="1292">0.29</text>
<text x="3533" y="1333">nAPE</text><text x="3718" y="1333">0.93</text><text x="3886" y="1333">0.78</text><text x="4060" y="1333">0.7</text><text x="4218" y="1333">0.44</text>
<text x="3533" y="1374">DTW-MJE</text><text x="3718" y="1374">1</text><text x="3886" y="1374">0.78</text><text x="4060" y="1374">0.66</text><text x="4218" y="1374">0.33</text>
<text x="3533" y="1415">nDTW-MJE</text><g font-weight="bold"><text x="3718" y="1415">1</text><text x="3886" y="1415">0.9</text><text x="4060" y="1415">0.84</text><text x="4218" y="1415">0.58</text></g>
</g>

<text x="3226" y="1517" font-size="44" textLength="761" lengthAdjust="spacingAndGlyphs">Model evaluation using nDTW-MJE:</text>

<g font-family="'Liberation Serif', serif" font-size="21" text-anchor="middle">
<path d="M3229 1570 H3857" stroke="#000" stroke-width="2.5"/>
<path d="M3229 1608 H3857" stroke="#333" stroke-width="1.5"/>
<path d="M3229 1727 H3857" stroke="#333" stroke-width="1.5"/>
<path d="M3229 1847 H3857" stroke="#000" stroke-width="2.5"/>
<text x="3282" y="1597">Ref.</text><text x="3383" y="1597">Lang.</text><text x="3502" y="1597">Rank 1 ↑</text><text x="3648" y="1597">Rank 5 ↑</text><text x="3795" y="1597">Rank 10 ↑</text>
<text x="3282" y="1675">Pred.</text>
<text x="3383" y="1635">PJM</text><text x="3502" y="1635">0.03 / 0</text><text x="3648" y="1635">0.15 / 0.005</text><text x="3795" y="1635">0.27 / 0.02</text>
<text x="3383" y="1662">DGS</text><text x="3502" y="1662">0.14 / 0.02</text><text x="3648" y="1662">0.23 / 0.08</text><text x="3795" y="1662">0.39 / 0.14</text>
<text x="3383" y="1688">GSL</text><text x="3502" y="1688">0 / 0.01</text><text x="3648" y="1688">0.1 / 0.06</text><text x="3795" y="1688">0.25 / 0.14</text>
<text x="3383" y="1715">LSF</text><text x="3502" y="1715">0.22 / 0.18</text><text x="3648" y="1715">0.6 / 0.41</text><text x="3795" y="1715">0.8 / 0.58</text>
<text x="3282" y="1782">Ground</text><text x="3282" y="1807">Truth</text>
<text x="3383" y="1753">PJM</text><text x="3502" y="1753">0.08 / 0.06</text><text x="3648" y="1753">0.25 / 0.3</text><text x="3795" y="1753">0.41 / 0.5</text>
<text x="3383" y="1780">DGS</text><text x="3502" y="1780">0.26 / 0.21</text><text x="3648" y="1780">0.49 / 0.49</text><text x="3795" y="1780">0.58 / 0.64</text>
<text x="3383" y="1807">GSL</text><text x="3502" y="1807">0.27 / 0.53</text><text x="3648" y="1807">0.67 / 0.84</text><text x="3795" y="1807">0.8 / 0.92</text>
<text x="3383" y="1833">LSF</text><text x="3502" y="1833">0.7 / 0.75</text><text x="3648" y="1833">0.95 / 0.91</text><text x="3795" y="1833">0.97 / 0.95</text>
</g>

<g font-family="'Liberation Serif', serif" font-size="23" text-anchor="middle">
<path d="M3903 1570 H4530" stroke="#000" stroke-width="2.5"/>
<path d="M3903 1612 H4530" stroke="#333" stroke-width="1.5"/>
<path d="M3903 1712 H4530" stroke="#333" stroke-width="1.5"/>
<path d="M3903 1812 H4530" stroke="#000" stroke-width="2.5"/>
<text x="3961" y="1598">Reference</text><text x="4093" y="1598">Model</text><text x="4210" y="1598">Rank 1 ↑</text><text x="4336" y="1598">Rank 5 ↑</text><text x="4465" y="1598">Rank 10 ↑</text>
<text x="3961" y="1667">Prediction</text>
<text x="4093" y="1640">PT</text><text x="4210" y="1640">0.04</text><text x="4336" y="1640">0.19</text><text x="4465" y="1640">0.34</text>
<text x="4093" y="1667">Resting</text><text x="4210" y="1667">0.05</text><text x="4336" y="1667">0.17</text><text x="4465" y="1667">0.31</text>
<g font-weight="bold"><text x="4093" y="1698">Ours</text><text x="4210" y="1698">0.08</text><text x="4336" y="1698">0.2</text><text x="4465" y="1698">0.35</text></g>
<text x="3961" y="1753">Ground</text><text x="3961" y="1783">Truth</text>
<text x="4093" y="1740">PT</text><text x="4210" y="1740">0.0</text><text x="4336" y="1740">0.001</text><text x="4465" y="1740">0.02</text>
<text x="4093" y="1768">Resting</text><text x="4210" y="1768">0.008</text><text x="4336" y="1768">0.08</text><text x="4465" y="1768">0.16</text>
<g font-weight="bold"><text x="4093" y="1798">Ours</text><text x="4210" y="1798">0.21</text><text x="4336" y="1798">0.44</text><text x="4465" y="1798">0.56</text></g>
</g>

<text x="4173" y="1917" font-size="34" font-weight="bold" textLength="342" lengthAdjust="spacingAndGlyphs">Visit our project page:</text>
<text x="3213" y="1957" font-size="36" font-weight="bold" textLength="208" lengthAdjust="spacingAndGlyphs">References:</text>
<g font-size="18" fill="#333">
<text x="3213" y="1988" textLength="910" lengthAdjust="spacingAndGlyphs">[1] Prillwitz, Siegmund, et al. "DGS Corpus project–development of a corpus based electronic dictionary German</text>
<text x="3213" y="2012" textLength="843" lengthAdjust="spacingAndGlyphs">Sign Language/German." sign-lang@ LREC 2008. European Language resources Association (ELRA), 2008.</text>
<text x="3213" y="2036" textLength="826" lengthAdjust="spacingAndGlyphs">[2] Matthes, Silke, et al. "Dicta-sign-building a multilingual sign language corpus." 5th Workshop on the</text>
<text x="3213" y="2059" textLength="907" lengthAdjust="spacingAndGlyphs">Representation and Processing of Sign Languages: Interactions between Corpus and Lexicon. Satellite Workshop</text>
<text x="3213" y="2083" textLength="784" lengthAdjust="spacingAndGlyphs">to the eighth International Conference on Language Resources and Evaluation (LREC-2012). 2012.</text>
<text x="3213" y="2107" textLength="907" lengthAdjust="spacingAndGlyphs">[3] Linde-Usiekniewicz, Jadwiga, et al. "A corpus-based dictionary of Polish Sign Language (PJM)." Proceedings of</text>
<text x="3213" y="2131" textLength="526" lengthAdjust="spacingAndGlyphs">the XVI EURALEX International Congress: The user in focus. 2014.</text>
<text x="3213" y="2155" textLength="917" lengthAdjust="spacingAndGlyphs">[4] Huang, Wencan, et al. "Towards fast and high-quality sign language production." Proceedings of the 29th ACM</text>
<text x="3213" y="2179" textLength="383" lengthAdjust="spacingAndGlyphs">International Conference on Multimedia. 2021.</text>
</g>

<!-- QR code -->
<g transform="translate(4226,1954) scale(9.76)" fill="#000">
<path fill-rule="evenodd" d="M0 0h7v7h-7zM1 1v5h5v-5zM2 2h3v3h-3z M18 0h7v7h-7zM19 1v5h5v-5zM20 2h3v3h-3z M0 18h7v7h-7zM1 19v5h5v-5zM2 20h3v3h-3z"/>
<path d="M8 0h1v1h-1zM10 0h2v1h-2zM13 0h1v1h-1zM15 0h1v1h-1z
M9 1h1v1h-1zM12 1h1v1h-1zM14 1h1v1h-1zM16 1h1v1h-1z
M8 2h2v1h-2zM11 2h1v1h-1zM13 2h2v1h-2z
M10 3h1v1h-1zM12 3h1v1h-1zM15 3h2v1h-2z
M8 4h1v1h-1zM11 4h2v1h-2zM14 4h1v1h-1z
M9 5h2v1h-2zM13 5h1v1h-1zM16 5h1v1h-1z
M8 6h1v1h-1zM10 6h1v1h-1zM12 6h1v1h-1zM14 6h1v1h-1zM16 6h1v1h-1z
M9 7h1v1h-1zM11 7h1v1h-1zM15 7h1v1h-1z
M0 8h2v1h-2zM3 8h1v1h-1zM5 8h2v1h-2zM8 8h2v1h-2zM12 8h2v1h-2zM17 8h1v1h-1zM19 8h2v1h-2zM22 8h1v1h-1zM24 8h1v1h-1z
M1 9h2v1h-2zM4 9h1v1h-1zM7 9h1v1h-1zM10 9h2v1h-2zM14 9h1v1h-1zM16 9h1v1h-1zM18 9h1v1h-1zM21 9h1v1h-1zM23 9h1v1h-1z
M0 10h1v1h-1zM3 10h1v1h-1zM5 10h2v1h-2zM9 10h1v1h-1zM12 10h2v1h-2zM15 10h1v1h-1zM17 10h1v1h-1zM19 10h2v1h-2zM24 10h1v1h-1z
M2 11h1v1h-1zM4 11h1v1h-1zM6 11h1v1h-1zM8 11h1v1h-1zM10 11h1v1h-1zM14 11h1v1h-1zM16 11h1v1h-1zM18 11h1v1h-1zM22 11h2v1h-2z
M0 12h2v1h-2zM3 12h1v1h-1zM6 12h2v1h-2zM9 12h1v1h-1zM11 12h2v1h-2zM15 12h1v1h-1zM17 12h1v1h-1zM20 12h2v1h-2zM24 12h1v1h-1z
M2 13h1v1h-1zM5 13h1v1h-1zM8 13h1v1h-1zM10 13h1v1h-1zM13 13h2v1h-2zM16 13h1v1h-1zM19 13h1v1h-1zM22 13h1v1h-1z
M0 14h2v1h-2zM4 14h1v1h-1zM6 14h2v1h-2zM9 14h1v1h-1zM12 14h1v1h-1zM15 14h1v1h-1zM17 14h2v1h-2zM20 14h1v1h-1zM23 14h2v1h-2z
M3 15h1v1h-1zM5 15h1v1h-1zM8 15h1v1h-1zM11 15h1v1h-1zM13 15h2v1h-2zM16 15h1v1h-1zM19 15h1v1h-1zM21 15h2v1h-2z
M0 16h1v1h-1zM2 16h1v1h-1zM4 16h1v1h-1zM6 16h1v1h-1zM9 16h2v1h-2zM12 16h1v1h-1zM15 16h2v1h-2zM18 16h1v1h-1zM20 16h1v1h-1zM24 16h1v1h-1z
M8 17h1v1h-1zM11 17h1v1h-1zM13 17h2v1h-2zM17 17h1v1h-1zM19 17h1v1h-1zM22 17h2v1h-2z
M8 18h2v1h-2zM12 18h1v1h-1zM15 18h2v1h-2zM18 18h1v1h-1zM20 18h2v1h-2zM24 18h1v1h-1z
M10 19h2v1h-2zM13 19h2v1h-2zM17 19h1v1h-1zM19 19h1v1h-1zM22 19h1v1h-1z
M8 20h1v1h-1zM12 20h1v1h-1zM15 20h4v1h-4zM20 20h1v1h-1zM23 20h2v1h-2z
M9 21h2v1h-2zM13 21h2v1h-2zM16 21h1v1h-1zM20 21h2v1h-2z
M8 22h1v1h-1zM11 22h2v1h-2zM15 22h2v1h-2zM18 22h2v1h-2zM22 22h1v1h-1zM24 22h1v1h-1z
M9 23h2v1h-2zM13 23h1v1h-1zM17 23h1v1h-1zM20 23h2v1h-2zM23 23h1v1h-1z
M8 24h1v1h-1zM11 24h2v1h-2zM14 24h2v1h-2zM18 24h2v1h-2zM22 24h1v1h-1zM24 24h1v1h-1z"/>
</g>
</svg>
</body></html>
